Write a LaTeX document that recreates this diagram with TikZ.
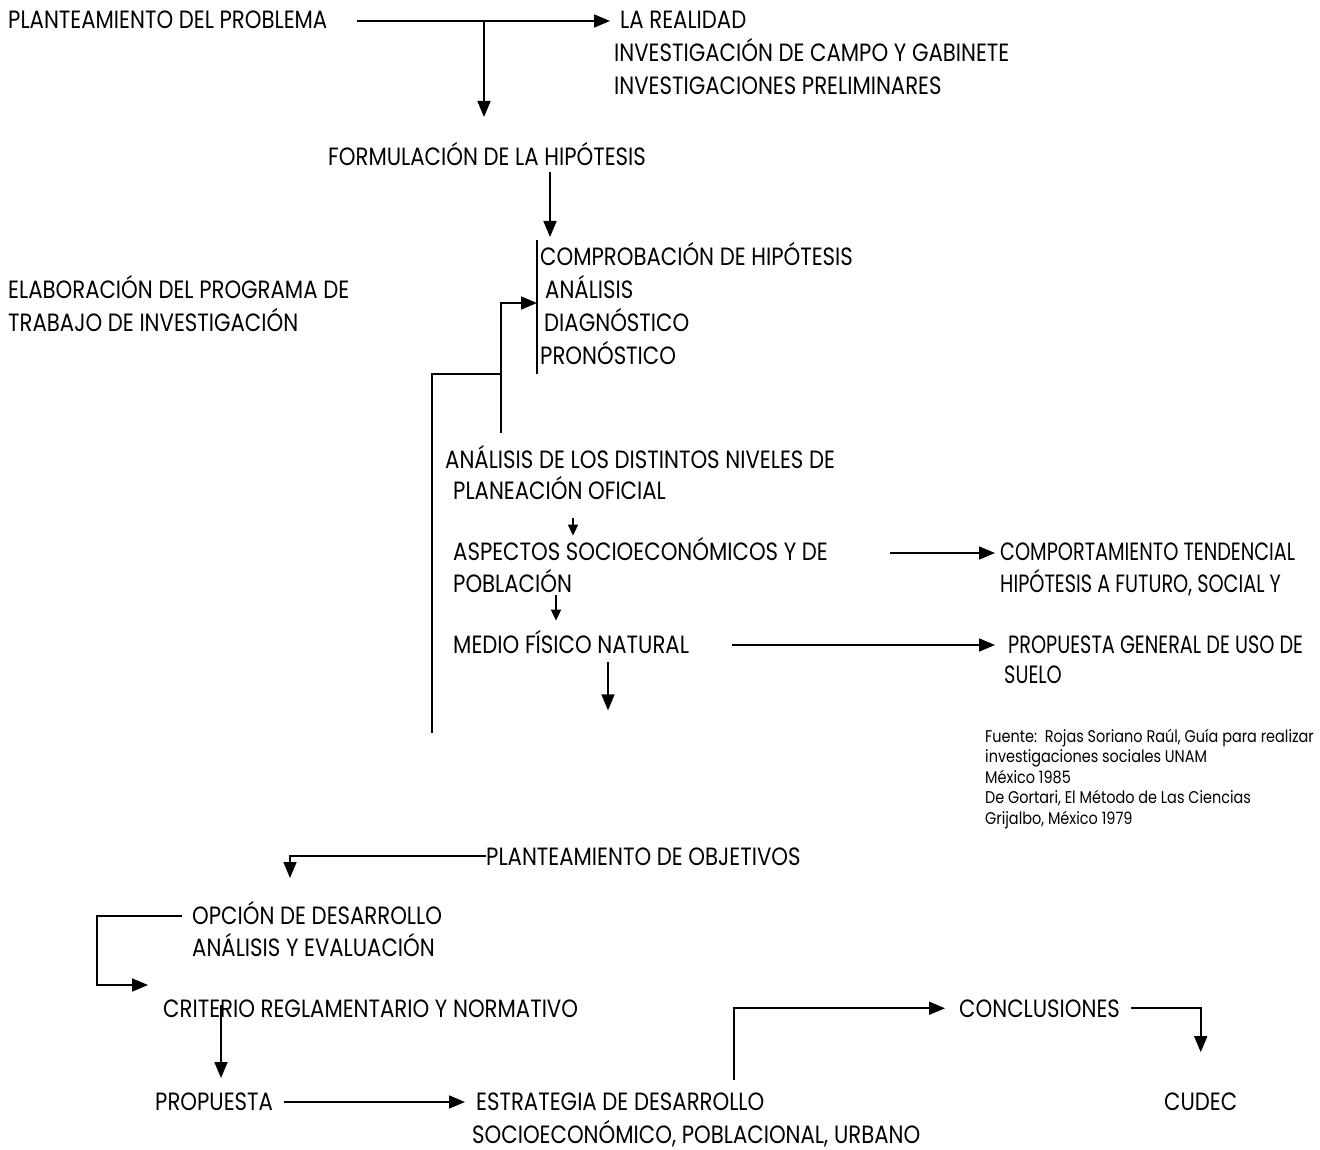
\documentclass[tikz,border=0pt]{standalone}
\usepackage{fontspec}
\setmainfont[FakeStretch=0.85]{Poppins}
\newfontfamily\narrowfont[FakeStretch=0.77]{Poppins}
\usetikzlibrary{arrows.meta}
\usetikzlibrary{calc}
\usetikzlibrary{positioning}
\tikzset{txt/.style={anchor=base west, inner sep=0pt, align=left,
font=\fontsize{25}{33}\selectfont},
narrow/.style={txt, font=\narrowfont\fontsize{25}{32}\selectfont},
src/.style={txt, font=\fontsize{17}{20.5}\selectfont},
link/.style={line width=1.7pt},
flow/.style={link, -{Triangle[length=16pt,width=13pt]}},
tiny/.style={link, -{Triangle[length=11pt,width=10pt]}}}

\begin{document}
\begin{tikzpicture}[x=1pt,y=-1pt]
  \useasboundingbox (0,0) rectangle (1320,1150);
  \clip (0,0) rectangle (1320,1150);

  % upper part (multi-line nodes sit on their last baseline)
  \node (plant) [txt] at (8,29) {PLANTEAMIENTO DEL PROBLEMA};
  \node (real) [txt] at (614,95) {\hspace*{6pt}LA REALIDAD\\
    INVESTIGACIÓN DE CAMPO Y GABINETE\\ INVESTIGACIONES PRELIMINARES};
  \node (formul) [txt] at (328,166) {FORMULACIÓN DE LA HIPÓTESIS};
  \node (comp) [txt] at (540,364) {COMPROBACIÓN DE HIPÓTESIS\\
    \hspace*{5pt}ANÁLISIS\\ \hspace*{4pt}DIAGNÓSTICO\\ PRONÓSTICO};
  \node (elab) [txt] at (8,332) {ELABORACIÓN DEL PROGRAMA DE\\
    TRABAJO DE INVESTIGACIÓN};
  \node (anal) [txt, font=\fontsize{25}{31}\selectfont] at (445,499)
    {ANÁLISIS DE LOS DISTINTOS NIVELES DE\\ \hspace*{8pt}PLANEACIÓN OFICIAL};
  \node (aspec) [txt, font=\fontsize{25}{32}\selectfont] at (453,592)
    {ASPECTOS SOCIOECONÓMICOS Y DE\\ POBLACIÓN};
  \node (medio) [txt] at (453,653) {MEDIO FÍSICO NATURAL};
  \node (comport) [narrow] at (1000,592)
    {COMPORTAMIENTO TENDENCIAL\\ HIPÓTESIS A FUTURO, SOCIAL Y};
  \node (propg) [narrow, font=\narrowfont\fontsize{25}{30}\selectfont] at (1004,683)
    {\hspace*{4pt}PROPUESTA GENERAL DE USO DE\\ SUELO};
  \node (fuente) [src] at (985,824) {Fuente:\ \ Rojas Soriano Raúl, Guía para realizar\\
    investigaciones sociales UNAM\\ México 1985\\
    De Gortari, El Método de Las Ciencias\\ Grijalbo, México 1979};

  % lower part
  \node (objet) [txt] at (486,865) {PLANTEAMIENTO DE OBJETIVOS};
  \node (opcion) [txt, font=\fontsize{25}{32}\selectfont] at (192,956)
    {OPCIÓN DE DESARROLLO\\ ANÁLISIS Y EVALUACIÓN};
  \node (crit) [txt] at (163,1017) {CRITERIO REGLAMENTARIO Y NORMATIVO};
  \node (prop) [txt] at (155,1110) {PROPUESTA};
  \node (estr) [txt] at (472,1143) {\hspace*{4pt}ESTRATEGIA DE DESARROLLO\\
    SOCIOECONÓMICO, POBLACIONAL, URBANO};
  \node (concl) [txt] at (959,1017) {CONCLUSIONES};
  \node (cudec) [txt] at (1164,1110) {CUDEC};

  \coordinate (fork) at (501,374);
  \coordinate (loopend) at (432,733);
  \coordinate (objdrop) at (290,878);

  \draw [flow] ([xshift=349pt,yshift=8pt]plant.base west)
    -- ([xshift=-4pt,yshift=74pt]real.base west);
  \draw [flow] ([xshift=476pt,yshift=8pt]plant.base west) -- ++(0,96);
  \draw [flow] ([xshift=222pt,yshift=-6pt]formul.base west) -- ++(0,65);
  \draw [link] ([xshift=-3pt,yshift=2pt]comp.north west)
    -- ([xshift=-3pt,yshift=-10pt]comp.south west);
  \draw [flow] ([yshift=12pt]anal.north -| fork) |- ([xshift=-3pt]comp.west);
  \draw [link] (loopend) |- (fork);
  \draw [tiny] ([yshift=-19pt]anal.south -| 573,0) -- ([yshift=1pt]aspec.north -| 573,0);
  \draw [tiny] ([yshift=-3pt]aspec.south -| 556,0) -- ([yshift=9pt]medio.north -| 556,0);
  \draw [flow] ([yshift=-9pt]medio.south -| 608,0) -- ++(0,48);
  \draw [flow] ([xshift=-110pt,yshift=39pt]comport.base west)
    -- ([xshift=-5pt,yshift=39pt]comport.base west);
  \draw [flow] ([xshift=279pt,yshift=8pt]medio.base west)
    -- ([xshift=-9pt,yshift=38pt]propg.base west);

  \draw [flow] (objet.west) -| (objdrop);
  \draw [flow] ([xshift=-10pt,yshift=40pt]opcion.base west) -- ++(-85,0)
    |- ([xshift=-15pt,yshift=32pt]crit.base west);
  \draw [flow] ([xshift=58pt,yshift=12pt]crit.base west)
    -- ([xshift=66pt,yshift=32pt]prop.base west);
  \draw [flow] ([xshift=11pt,yshift=8pt]prop.base east)
    -- ([xshift=-7pt,yshift=41pt]estr.base west);
  \draw [flow] ([xshift=262pt,yshift=63pt]estr.base west) |- ([xshift=-14pt]concl.west);
  \draw [flow] ([xshift=11pt]concl.east) -| ([yshift=40pt]cudec.north);
\end{tikzpicture}
\end{document}
